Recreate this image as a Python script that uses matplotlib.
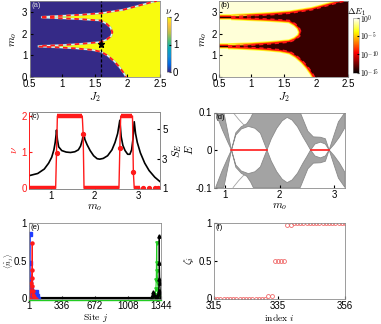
import numpy as np
import matplotlib
matplotlib.use("Agg")
import matplotlib.pyplot as plt
from matplotlib.colors import LinearSegmentedColormap, LogNorm, Normalize
from matplotlib.cm import ScalarMappable
import matplotlib.transforms as mtransforms

plt.rcParams["font.family"] = ["Liberation Sans", "DejaVu Sans"]
plt.rcParams["mathtext.fontset"] = "cm"
plt.rcParams["font.size"] = 7
plt.rcParams["xtick.direction"] = "in"
plt.rcParams["ytick.direction"] = "in"
plt.rcParams["xtick.major.size"] = 2
plt.rcParams["ytick.major.size"] = 2
plt.rcParams["xtick.major.pad"] = 1.5
plt.rcParams["ytick.major.pad"] = 1.5
plt.rcParams["axes.linewidth"] = 0.6
plt.rcParams["axes.edgecolor"] = "#8c8c8c"

# ---------------------------------------------------------------------------
# donnees
# ---------------------------------------------------------------------------

# (a)/(b) frontieres de phase dans le plan (J2, m_o)
haut_J2 = [0.69, 1.0, 1.3, 1.6, 1.94, 2.19, 2.39, 2.45]
haut_mo = [2.77, 2.82, 2.87, 2.94, 3.10, 3.30, 3.46, 3.50]
lobe_J2 = [0.69, 1.0, 1.3, 1.59, 1.68, 1.74, 1.77, 1.75, 1.68, 1.59, 1.3, 1.0, 0.64]
lobe_mo = [2.74, 2.70, 2.66, 2.60, 2.45, 2.28, 2.07, 1.88, 1.72, 1.61, 1.53, 1.47, 1.43]
bas_J2 = [0.64, 0.9, 1.2, 1.45, 1.6, 1.7, 1.8, 1.88, 1.94, 1.98]
bas_mo = [1.40, 1.37, 1.32, 1.25, 1.16, 0.98, 0.72, 0.45, 0.20, 0.0]
coupe_J2 = 1.6
etoile = (1.6, 1.5)

# (c) nombre de Chern nu et entropie S_E en fonction de m_o
nu_m = [0.50, 1.11, 1.13, 1.15, 1.72, 1.74, 1.76, 2.56, 2.58, 2.60, 2.87, 2.89, 2.91, 3.04]
nu_v = [0, 0, 0.98, 2, 2, 1.5, 0, 0, 1.11, 2, 2, 0.44, 0, 0]
nu_pts_m = [1.13, 1.74, 2.58, 2.89, 3.12, 3.25, 3.39, 3.46]
nu_pts_v = [0.98, 1.5, 1.11, 0.44, 0, 0, 0, 0]
S_m = [0.5, 0.7, 0.85, 0.95, 1.02, 1.07, 1.10, 1.12, 1.13, 1.15, 1.18, 1.25, 1.35,
       1.45, 1.55, 1.63, 1.68, 1.72, 1.75, 1.78, 1.83, 1.9, 1.98, 2.06, 2.12, 2.2,
       2.3, 2.4, 2.47, 2.53, 2.58, 2.61, 2.65, 2.7, 2.76, 2.81, 2.85, 2.88, 2.91,
       2.94, 2.98, 3.05, 3.15, 3.25, 3.38, 3.5]
S_v = [1.85, 2.0, 2.3, 2.7, 3.1, 3.6, 4.1, 4.6, 4.94, 4.3, 3.8, 3.55, 3.45,
       3.42, 3.47, 3.6, 3.85, 4.25, 4.76, 4.3, 3.95, 3.55, 3.2, 3.0, 2.97, 3.02,
       3.2, 3.6, 4.1, 4.7, 5.6, 4.5, 3.9, 3.55, 3.3, 3.3, 3.6, 4.3, 5.5,
       4.7, 4.1, 3.4, 2.7, 2.2, 1.75, 1.45]

# (d) spectre : bandes grises (bord interieur / bord exterieur, E > 0, symetrique)
coin_m = [0.83, 0.95, 1.05, 1.12, 1.05, 0.98]
coin_E = [0.10, 0.055, 0.022, 0.0, 0.05, 0.10]
gap_m = [1.12, 1.2, 1.3, 1.43, 1.55, 1.65, 1.77, 1.85, 1.95, 2.05, 2.14, 2.23,
         2.33, 2.43, 2.5, 2.57, 2.65, 2.75, 2.84, 2.91]
gap_E = [0.0, 0.04, 0.056, 0.063, 0.058, 0.045, 0.0, 0.03, 0.058, 0.078, 0.087, 0.08,
         0.062, 0.035, 0.018, 0.0, 0.016, 0.021, 0.016, 0.0]
ext_m = [2.91, 2.84, 2.75, 2.62, 2.52, 2.45, 2.38, 1.52, 1.47, 1.4, 1.3, 1.2, 1.12]
ext_E = [0.0, 0.03, 0.034, 0.035, 0.05, 0.075, 0.10, 0.10, 0.085, 0.07, 0.062, 0.046, 0.0]
droite_m = [2.91, 3.0, 3.08, 3.2, 3.2, 3.1, 3.0, 2.91]
droite_E = [0.0, 0.04, 0.075, 0.10, 0.06, 0.035, 0.015, 0.0]
ligne_m = [1.15, 1.25, 1.34, 1.43]
ligne_E = [0.10, 0.082, 0.068, 0.064]
modes_zero = [(1.12, 1.77), (2.57, 2.91)]

# (e) densites des etats de bord
bleu_j = [2, 6, 10, 11, 14, 18, 26, 38, 50, 62, 70, 80, 95]
bleu_n = [0.05, 0.2, 0.85, 0.47, 0.22, 0.11, 0.05, 0.02, 0.03, 0.07, 0.09, 0.03, 0.0]
rouge_j = [10, 18, 24, 28, 32, 34, 36, 40, 46, 56, 70]
rouge_n = [0.0, 0.1, 0.2, 0.27, 0.38, 0.73, 0.17, 0.1, 0.05, 0.02, 0.0]
vert_j = [1250, 1270, 1285, 1292, 1296, 1300, 1302, 1304, 1310, 1318, 1330, 1344]
vert_n = [0.0, 0.02, 0.05, 0.13, 0.25, 0.74, 0.47, 0.36, 0.2, 0.1, 0.03, 0.0]
noir_j = [1240, 1255, 1265, 1275, 1290, 1305, 1315, 1320, 1324, 1326, 1328, 1332, 1338, 1344]
noir_n = [0, 0.03, 0.08, 0.04, 0.02, 0.03, 0.06, 0.1, 0.26, 0.83, 0.47, 0.2, 0.08, 0.02]
fond_j = [1, 1344]
fond_n = [0, 0]

# (f) valeurs propres zeta_i
indice_i = list(range(315, 357))
zeta = [0] * 17 + [0.035, 0.035] + [0.5] * 4 + [0.97, 0.97] + [1] * 17

# ---------------------------------------------------------------------------
# couleurs
# ---------------------------------------------------------------------------
parula = LinearSegmentedColormap.from_list("parula", [
    (0.0, (0.2081, 0.1663, 0.5292)),
    (0.14, (0.0060, 0.4086, 0.8828)),
    (0.28, (0.0736, 0.5476, 0.8419)),
    (0.43, (0.0282, 0.6603, 0.7217)),
    (0.57, (0.3235, 0.7449, 0.4700)),
    (0.71, (0.7328, 0.7473, 0.2940)),
    (0.86, (0.9817, 0.7602, 0.2310)),
    (1.0, (0.9763, 0.9831, 0.0538)),
])
hot = plt.get_cmap("hot")
ROUGE = "#ff1a1a"
GRIS = "#a3a3a3"

W, H = 381, 324
fig = plt.figure(figsize=(W / 100, H / 100), dpi=100)


def axe_px(x0, x1, y0, y1):
    return fig.add_axes([x0 / W, 1 - y1 / H, (x1 - x0) / W, (y1 - y0) / H])


def etiquette(ax, texte, couleur="black"):
    ax.text(0.015, 0.985, texte, transform=ax.transAxes, ha="left", va="top",
            fontsize=5.5, color=couleur, zorder=10)


poly_x = np.concatenate([haut_J2, [2.5, 2.5], bas_J2[::-1], lobe_J2[::-1]])
poly_y = np.concatenate([haut_mo, [3.5, 0.0], bas_mo[::-1], lobe_mo[::-1]])
frontieres = [(haut_J2, haut_mo), (lobe_J2, lobe_mo), (bas_J2, bas_mo)]

# ---------------------------------------------------------------------------
# (a) diagramme de phase
# ---------------------------------------------------------------------------
ax = axe_px(29.5, 160, 1, 77)
ax.set_facecolor(parula(0.0))
ax.fill(poly_x, poly_y, color=parula(1.0), lw=0, zorder=1)
for fx, fy in frontieres:
    ax.plot(fx, fy, color="#5fd0e0", lw=1.4, alpha=0.7, zorder=2)
    ax.plot(fx, fy, color="#f2f2f2", lw=0.8, zorder=2)
    ax.plot(fx, fy, color=ROUGE, lw=1.3, dashes=(2.5, 2), zorder=3)
ax.axvline(coupe_J2, color="black", lw=0.9, dashes=(2.5, 1.5), zorder=4)
ax.plot(*etoile, marker="*", color="black", ms=5, zorder=5)
ax.set_xlim(0.5, 2.5)
ax.set_ylim(0, 3.5)
ax.set_xticks([0.5, 1, 1.5, 2, 2.5])
ax.set_xticklabels(["0.5", "1", "1.5", "2", "2.5"])
ax.set_yticks([0, 1, 2, 3])
ax.set_xlabel(r"$J_2$", fontsize=8, labelpad=1)
ax.set_ylabel(r"$m_o$", fontsize=8, labelpad=2)
etiquette(ax, "(a)", "#dddddd")

cax = axe_px(167, 171, 17, 72)
cb = fig.colorbar(ScalarMappable(Normalize(0, 2), parula), cax=cax, ticks=[0, 1, 2])
cb.outline.set_linewidth(0.4)
cax.tick_params(length=1.5, labelsize=7, pad=1.5)
cax.set_title(r"$\nu$", fontsize=7, pad=2)

# ---------------------------------------------------------------------------
# (b) gap Delta E_1 (echelle log)
# ---------------------------------------------------------------------------
norm_log = LogNorm(1e-15, 1)
ax = axe_px(219, 348, 1, 77)
ax.set_facecolor(hot(0.96))
pointes = [([0.5, haut_J2[0]], [2.755, 2.755]), ([0.5, bas_J2[0]], [1.415, 1.415])]
for fx, fy in frontieres + pointes:
    ax.plot(fx, fy, color=hot(0.8), lw=4.0, solid_capstyle="butt", zorder=1)
    ax.plot(fx, fy, color=hot(0.6), lw=2.8, solid_capstyle="butt", zorder=1)
    ax.plot(fx, fy, color=hot(0.38), lw=1.7, solid_capstyle="butt", zorder=1)
for fx, fy in pointes:
    ax.plot(fx, fy, color=hot(0.05), lw=0.9, zorder=2)
ax.fill(poly_x, poly_y, color=hot(0.07), lw=0, zorder=2)
for fx, fy in frontieres:
    ax.plot(fx, fy, color=ROUGE, lw=1.2, dashes=(2.5, 2.2), zorder=3)
ax.set_xlim(0.5, 2.5)
ax.set_ylim(0, 3.5)
ax.set_xticks([0.5, 1, 1.5, 2, 2.5])
ax.set_xticklabels(["0.5", "1", "1.5", "2", "2.5"])
ax.set_yticks([0, 1, 2, 3])
ax.set_xlabel(r"$J_2$", fontsize=8, labelpad=1)
ax.set_ylabel(r"$m_o$", fontsize=8, labelpad=2)
etiquette(ax, "(b)")

cax = axe_px(353, 359, 18, 72.5)
cb = fig.colorbar(ScalarMappable(norm_log, hot), cax=cax,
                  ticks=[1e0, 1e-5, 1e-10, 1e-15])
cb.ax.set_yticklabels([r"$10^{0}$", r"$10^{-5}$", r"$10^{-10}$", r"$10^{-15}$"])
cb.ax.minorticks_off()
cb.outline.set_linewidth(0.4)
cax.tick_params(length=1.5, labelsize=5.5, pad=1)
cax.set_title(r"$\Delta E_1$", fontsize=6.5, pad=2)

# ---------------------------------------------------------------------------
# (c) nu et entropie d'intrication
# ---------------------------------------------------------------------------
ax = axe_px(29, 160, 112, 189)
ax2 = ax.twinx()
ax.set_zorder(ax2.get_zorder() + 1)
ax.patch.set_visible(False)
ax2.plot(S_m, S_v, color="black", lw=1.2)
ax.plot(nu_m, nu_v, color=ROUGE, lw=1.0)
for k in range(0, len(nu_m) - 1, 3):
    ax.plot(nu_m[k:k + 2], nu_v[k:k + 2], color=ROUGE, lw=3.2, solid_capstyle="butt")
ax.plot(nu_pts_m, nu_pts_v, "o", color=ROUGE, ms=2.8)
ax.set_xlim(0.5, 3.5)
ax.set_ylim(-0.02, 2.11)
ax2.set_ylim(0.95, 6.16)
ax.set_xticks([1, 2, 3])
ax.set_yticks([0, 1, 2])
ax2.set_yticks([1, 3, 5])
ax.tick_params(axis="y", colors=ROUGE)
ax.spines["left"].set_color(ROUGE)
ax2.spines["left"].set_color(ROUGE)
ax.set_xlabel(r"$m_o$", fontsize=8, labelpad=1)
ax.set_ylabel(r"$\nu$", fontsize=8, color=ROUGE, labelpad=2)
ax2.set_ylabel(r"$S_E$", fontsize=8, labelpad=2)
etiquette(ax, "(c)")

# ---------------------------------------------------------------------------
# (d) spectre en energie
# ---------------------------------------------------------------------------
ax = axe_px(214, 345, 112.5, 187.5)
bande_m = gap_m + ext_m
bande_E = gap_E + ext_E
for bx, by in [(coin_m, coin_E), (bande_m, bande_E), (droite_m, droite_E)]:
    by = np.array(by)
    ax.fill(bx, by, color=GRIS, lw=0.6, ec="#8a8a8a")
    ax.fill(bx, -by, color=GRIS, lw=0.6, ec="#8a8a8a")
ligne = np.array(ligne_E)
ax.plot(ligne_m, ligne, color=GRIS, lw=0.6)
ax.plot(ligne_m, -ligne, color=GRIS, lw=0.6)
for m0, m1 in modes_zero:
    ax.plot([m0, m1], [0, 0], color=ROUGE, lw=1.2)
ax.set_xlim(0.8, 3.2)
ax.set_ylim(-0.1, 0.1)
ax.set_xticks([1, 2, 3])
ax.set_yticks([-0.1, 0, 0.1])
ax.set_yticklabels(["-0.1", "0", "0.1"])
ax.set_xlabel(r"$m_o$", fontsize=8, labelpad=1)
ax.set_ylabel(r"$E$", fontsize=8, labelpad=0)
etiquette(ax, "(d)")

# ---------------------------------------------------------------------------
# (e) densite des etats de bord
# ---------------------------------------------------------------------------
ax = axe_px(29, 161, 223, 298.5)
decal = mtransforms.offset_copy(ax.transData, fig=fig, x=0, y=-1.6, units="dots")
ax.plot(fond_j, fond_n, color="#22cc22", lw=1.0, transform=decal, clip_on=False)
ax.plot(fond_j, fond_n, color="black", lw=3.0, solid_capstyle="butt")
ax.plot(bleu_j, bleu_n, "-s", color="#1f3cff", lw=0.8, ms=2.2)
ax.plot(rouge_j, rouge_n, "-o", color=ROUGE, lw=0.8, ms=2.2)
ax.plot(vert_j, vert_n, "-v", color="#22cc22", lw=0.8, ms=2.4)
ax.plot(noir_j, noir_n, "-^", color="black", lw=0.8, ms=2.4)
ax.set_xlim(1, 1344)
ax.set_ylim(0, 1)
ax.set_xticks([1, 336, 672, 1008, 1344])
ax.set_yticks([0, 0.5, 1])
ax.set_yticklabels(["0", "0.5", "1"])
ax.set_xlabel(r"$\mathrm{Site}\ j$", fontsize=7, labelpad=1)
ax.set_ylabel(r"$\langle\hat{n}_j\rangle$", fontsize=5.5)
ax.yaxis.set_label_coords(-0.108, 0.5)
etiquette(ax, "(e)")

# ---------------------------------------------------------------------------
# (f) spectre d'intrication
# ---------------------------------------------------------------------------
ax = axe_px(214, 345, 223, 298.5)
ax.plot(indice_i, zeta, "o", mfc="none", mec="#f06a6a", mew=0.6, ms=2.8)
ax.set_xlim(315, 356)
ax.set_ylim(0, 1)
ax.set_xticks([315, 335, 356])
ax.set_yticks([0, 0.5, 1])
ax.set_yticklabels(["0", "0.5", "1"])
ax.set_xlabel(r"$\mathrm{index}\ i$", fontsize=7, labelpad=1)
ax.set_ylabel(r"$\zeta_i$", fontsize=8, labelpad=2)
etiquette(ax, "(f)")

fig.savefig("out.png", dpi=100)
